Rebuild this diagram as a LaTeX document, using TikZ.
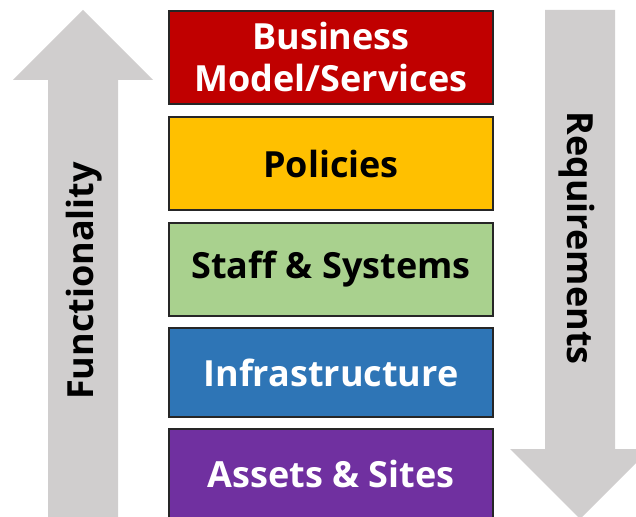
\documentclass[tikz,border=0pt]{standalone}
\usepackage{fontspec}
\setmainfont{Open Sans}
\definecolor{layerred}{HTML}{C00000}
\definecolor{layeryellow}{HTML}{FFC000}
\definecolor{layergreen}{HTML}{A9D18E}
\definecolor{layerblue}{HTML}{2E75B6}
\definecolor{layerpurple}{HTML}{7030A0}
\definecolor{arrowgray}{HTML}{D0CECE}
\begin{document}
\begin{tikzpicture}[x=1pt,y=-1pt,
    layer/.style={draw=black!85, line width=1.2pt, minimum width=324pt, inner sep=0pt,
      align=center, font=\fontsize{36}{42}\selectfont\bfseries},
    side/.style={font=\fontsize{36}{42}\selectfont\bfseries}
  ]
    \useasboundingbox (0,0) rectangle (636,516);
    % big arrows
    \fill[arrowgray]
      (48,520)--(48,80)--(13,80)--(83,10)--(153,80)--(118,80)--(118,520)--cycle
      (545,10)--(615,10)--(615,449)--(650,449)--(580,519)--(510,449)--(545,449)--cycle
    ;
    \node[side, rotate=90] (func) at (84,281) {Functionality};
    \node[side, rotate=-90] (req) at (577,238) {Requirements};
    % layers
    \node[layer, fill=layerred, text=white, minimum height=93pt] (business) at (331,57.5) {Business\\Model/Services};
    \node[layer, fill=layeryellow, minimum height=93pt] (policies) at (331,163.5) {Policies};
    \node[layer, fill=layergreen, minimum height=93pt] (staff) at (331,269.5) {Staff \& Systems};
    \node[layer, fill=layerblue, text=white, minimum height=89pt] (infra) at (331,372.5) {Infrastructure};
    \node[layer, fill=layerpurple, text=white, minimum height=89pt] (assets) at (331,473.5) {Assets \& Sites};
  \end{tikzpicture}
\end{document}
